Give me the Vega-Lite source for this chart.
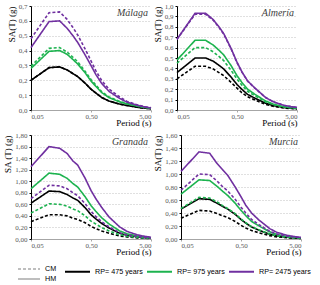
{
"$schema": "https://vega.github.io/schema/vega-lite/v6.json",
"padding": {"left": 3, "top": 2, "right": 2, "bottom": 0},
"config": {
  "view": {"stroke": null},
  "font": "Liberation Serif",
  "axis": {"labelFont": "Liberation Serif", "labelFontSize": 7, "labelColor": "#595959", "labelOverlap": false, "titleFont": "Liberation Serif", "titleFontSize": 9, "titleFontWeight": "normal", "titleColor": "#000000", "tickSize": 2, "gridColor": "#c0c0c0", "gridDash": [1, 2]},
  "axisX": {"grid": false, "domainColor": "#a6a6a6", "tickColor": "#a6a6a6", "titleAnchor": "end", "titlePadding": -1, "labelPadding": 0},
  "axisY": {"domainColor": "#000000", "tickColor": "#000000", "titleAnchor": "end", "titlePadding": 2, "labelPadding": 2},
  "legend": {"labelFont": "Liberation Sans", "labelFontSize": 7.2, "labelColor": "#000000", "title": null, "symbolType": "stroke", "padding": 0, "offset": 0}
},
"data": {"values": [
{"c":"Málaga","rp":"475","m":"CM","T":0.05,"v":0.2},{"c":"Málaga","rp":"475","m":"CM","T":0.1,"v":0.285},{"c":"Málaga","rp":"475","m":"CM","T":0.15,"v":0.29},{"c":"Málaga","rp":"475","m":"CM","T":0.2,"v":0.27},{"c":"Málaga","rp":"475","m":"CM","T":0.25,"v":0.245},{"c":"Málaga","rp":"475","m":"CM","T":0.3,"v":0.225},{"c":"Málaga","rp":"475","m":"CM","T":0.4,"v":0.18},{"c":"Málaga","rp":"475","m":"CM","T":0.5,"v":0.14},{"c":"Málaga","rp":"475","m":"CM","T":0.6,"v":0.115},{"c":"Málaga","rp":"475","m":"CM","T":0.75,"v":0.085},{"c":"Málaga","rp":"475","m":"CM","T":1,"v":0.06},{"c":"Málaga","rp":"475","m":"CM","T":1.5,"v":0.04},{"c":"Málaga","rp":"475","m":"CM","T":2,"v":0.03},{"c":"Málaga","rp":"475","m":"CM","T":3,"v":0.018},{"c":"Málaga","rp":"475","m":"CM","T":4,"v":0.012},{"c":"Málaga","rp":"475","m":"CM","T":5,"v":0.008},
{"c":"Málaga","rp":"475","m":"HM","T":0.05,"v":0.2},{"c":"Málaga","rp":"475","m":"HM","T":0.1,"v":0.285},{"c":"Málaga","rp":"475","m":"HM","T":0.15,"v":0.29},{"c":"Málaga","rp":"475","m":"HM","T":0.2,"v":0.27},{"c":"Málaga","rp":"475","m":"HM","T":0.25,"v":0.245},{"c":"Málaga","rp":"475","m":"HM","T":0.3,"v":0.225},{"c":"Málaga","rp":"475","m":"HM","T":0.4,"v":0.18},{"c":"Málaga","rp":"475","m":"HM","T":0.5,"v":0.14},{"c":"Málaga","rp":"475","m":"HM","T":0.6,"v":0.115},{"c":"Málaga","rp":"475","m":"HM","T":0.75,"v":0.085},{"c":"Málaga","rp":"475","m":"HM","T":1,"v":0.06},{"c":"Málaga","rp":"475","m":"HM","T":1.5,"v":0.04},{"c":"Málaga","rp":"475","m":"HM","T":2,"v":0.03},{"c":"Málaga","rp":"475","m":"HM","T":3,"v":0.018},{"c":"Málaga","rp":"475","m":"HM","T":4,"v":0.012},{"c":"Málaga","rp":"475","m":"HM","T":5,"v":0.008},
{"c":"Málaga","rp":"975","m":"CM","T":0.05,"v":0.295},{"c":"Málaga","rp":"975","m":"CM","T":0.1,"v":0.415},{"c":"Málaga","rp":"975","m":"CM","T":0.15,"v":0.42},{"c":"Málaga","rp":"975","m":"CM","T":0.2,"v":0.39},{"c":"Málaga","rp":"975","m":"CM","T":0.25,"v":0.355},{"c":"Málaga","rp":"975","m":"CM","T":0.3,"v":0.325},{"c":"Málaga","rp":"975","m":"CM","T":0.4,"v":0.26},{"c":"Málaga","rp":"975","m":"CM","T":0.5,"v":0.205},{"c":"Málaga","rp":"975","m":"CM","T":0.6,"v":0.168},{"c":"Málaga","rp":"975","m":"CM","T":0.75,"v":0.124},{"c":"Málaga","rp":"975","m":"CM","T":1,"v":0.088},{"c":"Málaga","rp":"975","m":"CM","T":1.5,"v":0.058},{"c":"Málaga","rp":"975","m":"CM","T":2,"v":0.043},{"c":"Málaga","rp":"975","m":"CM","T":3,"v":0.026},{"c":"Málaga","rp":"975","m":"CM","T":4,"v":0.018},{"c":"Málaga","rp":"975","m":"CM","T":5,"v":0.012},
{"c":"Málaga","rp":"975","m":"HM","T":0.05,"v":0.28},{"c":"Málaga","rp":"975","m":"HM","T":0.1,"v":0.395},{"c":"Málaga","rp":"975","m":"HM","T":0.15,"v":0.4},{"c":"Málaga","rp":"975","m":"HM","T":0.2,"v":0.375},{"c":"Málaga","rp":"975","m":"HM","T":0.25,"v":0.34},{"c":"Málaga","rp":"975","m":"HM","T":0.3,"v":0.31},{"c":"Málaga","rp":"975","m":"HM","T":0.4,"v":0.25},{"c":"Málaga","rp":"975","m":"HM","T":0.5,"v":0.195},{"c":"Málaga","rp":"975","m":"HM","T":0.6,"v":0.16},{"c":"Málaga","rp":"975","m":"HM","T":0.75,"v":0.118},{"c":"Málaga","rp":"975","m":"HM","T":1,"v":0.083},{"c":"Málaga","rp":"975","m":"HM","T":1.5,"v":0.055},{"c":"Málaga","rp":"975","m":"HM","T":2,"v":0.041},{"c":"Málaga","rp":"975","m":"HM","T":3,"v":0.025},{"c":"Málaga","rp":"975","m":"HM","T":4,"v":0.017},{"c":"Málaga","rp":"975","m":"HM","T":5,"v":0.011},
{"c":"Málaga","rp":"2475","m":"CM","T":0.05,"v":0.48},{"c":"Málaga","rp":"2475","m":"CM","T":0.1,"v":0.655},{"c":"Málaga","rp":"2475","m":"CM","T":0.15,"v":0.66},{"c":"Málaga","rp":"2475","m":"CM","T":0.2,"v":0.61},{"c":"Málaga","rp":"2475","m":"CM","T":0.25,"v":0.555},{"c":"Málaga","rp":"2475","m":"CM","T":0.3,"v":0.505},{"c":"Málaga","rp":"2475","m":"CM","T":0.4,"v":0.41},{"c":"Málaga","rp":"2475","m":"CM","T":0.5,"v":0.33},{"c":"Málaga","rp":"2475","m":"CM","T":0.6,"v":0.265},{"c":"Málaga","rp":"2475","m":"CM","T":0.75,"v":0.2},{"c":"Málaga","rp":"2475","m":"CM","T":1,"v":0.14},{"c":"Málaga","rp":"2475","m":"CM","T":1.5,"v":0.088},{"c":"Málaga","rp":"2475","m":"CM","T":2,"v":0.058},{"c":"Málaga","rp":"2475","m":"CM","T":3,"v":0.034},{"c":"Málaga","rp":"2475","m":"CM","T":4,"v":0.022},{"c":"Málaga","rp":"2475","m":"CM","T":5,"v":0.015},
{"c":"Málaga","rp":"2475","m":"HM","T":0.05,"v":0.42},{"c":"Málaga","rp":"2475","m":"HM","T":0.1,"v":0.595},{"c":"Málaga","rp":"2475","m":"HM","T":0.15,"v":0.6},{"c":"Málaga","rp":"2475","m":"HM","T":0.2,"v":0.55},{"c":"Málaga","rp":"2475","m":"HM","T":0.25,"v":0.5},{"c":"Málaga","rp":"2475","m":"HM","T":0.3,"v":0.455},{"c":"Málaga","rp":"2475","m":"HM","T":0.4,"v":0.37},{"c":"Málaga","rp":"2475","m":"HM","T":0.5,"v":0.3},{"c":"Málaga","rp":"2475","m":"HM","T":0.6,"v":0.24},{"c":"Málaga","rp":"2475","m":"HM","T":0.75,"v":0.18},{"c":"Málaga","rp":"2475","m":"HM","T":1,"v":0.125},{"c":"Málaga","rp":"2475","m":"HM","T":1.5,"v":0.078},{"c":"Málaga","rp":"2475","m":"HM","T":2,"v":0.052},{"c":"Málaga","rp":"2475","m":"HM","T":3,"v":0.031},{"c":"Málaga","rp":"2475","m":"HM","T":4,"v":0.02},{"c":"Málaga","rp":"2475","m":"HM","T":5,"v":0.013},
{"c":"Almería","rp":"475","m":"CM","T":0.05,"v":0.3},{"c":"Almería","rp":"475","m":"CM","T":0.1,"v":0.42},{"c":"Almería","rp":"475","m":"CM","T":0.15,"v":0.42},{"c":"Almería","rp":"475","m":"CM","T":0.2,"v":0.395},{"c":"Almería","rp":"475","m":"CM","T":0.25,"v":0.36},{"c":"Almería","rp":"475","m":"CM","T":0.3,"v":0.33},{"c":"Almería","rp":"475","m":"CM","T":0.4,"v":0.265},{"c":"Almería","rp":"475","m":"CM","T":0.5,"v":0.21},{"c":"Almería","rp":"475","m":"CM","T":0.6,"v":0.167},{"c":"Almería","rp":"475","m":"CM","T":0.75,"v":0.127},{"c":"Almería","rp":"475","m":"CM","T":1,"v":0.095},{"c":"Almería","rp":"475","m":"CM","T":1.5,"v":0.054},{"c":"Almería","rp":"475","m":"CM","T":2,"v":0.036},{"c":"Almería","rp":"475","m":"CM","T":3,"v":0.02},{"c":"Almería","rp":"475","m":"CM","T":4,"v":0.014},{"c":"Almería","rp":"475","m":"CM","T":5,"v":0.011},
{"c":"Almería","rp":"475","m":"HM","T":0.05,"v":0.36},{"c":"Almería","rp":"475","m":"HM","T":0.1,"v":0.5},{"c":"Almería","rp":"475","m":"HM","T":0.15,"v":0.5},{"c":"Almería","rp":"475","m":"HM","T":0.2,"v":0.47},{"c":"Almería","rp":"475","m":"HM","T":0.25,"v":0.43},{"c":"Almería","rp":"475","m":"HM","T":0.3,"v":0.395},{"c":"Almería","rp":"475","m":"HM","T":0.4,"v":0.315},{"c":"Almería","rp":"475","m":"HM","T":0.5,"v":0.245},{"c":"Almería","rp":"475","m":"HM","T":0.6,"v":0.2},{"c":"Almería","rp":"475","m":"HM","T":0.75,"v":0.15},{"c":"Almería","rp":"475","m":"HM","T":1,"v":0.113},{"c":"Almería","rp":"475","m":"HM","T":1.5,"v":0.065},{"c":"Almería","rp":"475","m":"HM","T":2,"v":0.043},{"c":"Almería","rp":"475","m":"HM","T":3,"v":0.024},{"c":"Almería","rp":"475","m":"HM","T":4,"v":0.017},{"c":"Almería","rp":"475","m":"HM","T":5,"v":0.013},
{"c":"Almería","rp":"975","m":"CM","T":0.05,"v":0.45},{"c":"Almería","rp":"975","m":"CM","T":0.1,"v":0.6},{"c":"Almería","rp":"975","m":"CM","T":0.15,"v":0.6},{"c":"Almería","rp":"975","m":"CM","T":0.2,"v":0.56},{"c":"Almería","rp":"975","m":"CM","T":0.25,"v":0.515},{"c":"Almería","rp":"975","m":"CM","T":0.3,"v":0.475},{"c":"Almería","rp":"975","m":"CM","T":0.4,"v":0.38},{"c":"Almería","rp":"975","m":"CM","T":0.5,"v":0.297},{"c":"Almería","rp":"975","m":"CM","T":0.6,"v":0.24},{"c":"Almería","rp":"975","m":"CM","T":0.75,"v":0.18},{"c":"Almería","rp":"975","m":"CM","T":1,"v":0.136},{"c":"Almería","rp":"975","m":"CM","T":1.5,"v":0.077},{"c":"Almería","rp":"975","m":"CM","T":2,"v":0.052},{"c":"Almería","rp":"975","m":"CM","T":3,"v":0.029},{"c":"Almería","rp":"975","m":"CM","T":4,"v":0.02},{"c":"Almería","rp":"975","m":"CM","T":5,"v":0.016},
{"c":"Almería","rp":"975","m":"HM","T":0.05,"v":0.48},{"c":"Almería","rp":"975","m":"HM","T":0.1,"v":0.67},{"c":"Almería","rp":"975","m":"HM","T":0.15,"v":0.67},{"c":"Almería","rp":"975","m":"HM","T":0.2,"v":0.625},{"c":"Almería","rp":"975","m":"HM","T":0.25,"v":0.575},{"c":"Almería","rp":"975","m":"HM","T":0.3,"v":0.53},{"c":"Almería","rp":"975","m":"HM","T":0.4,"v":0.425},{"c":"Almería","rp":"975","m":"HM","T":0.5,"v":0.33},{"c":"Almería","rp":"975","m":"HM","T":0.6,"v":0.267},{"c":"Almería","rp":"975","m":"HM","T":0.75,"v":0.2},{"c":"Almería","rp":"975","m":"HM","T":1,"v":0.15},{"c":"Almería","rp":"975","m":"HM","T":1.5,"v":0.086},{"c":"Almería","rp":"975","m":"HM","T":2,"v":0.058},{"c":"Almería","rp":"975","m":"HM","T":3,"v":0.032},{"c":"Almería","rp":"975","m":"HM","T":4,"v":0.023},{"c":"Almería","rp":"975","m":"HM","T":5,"v":0.018},
{"c":"Almería","rp":"2475","m":"CM","T":0.05,"v":0.68},{"c":"Almería","rp":"2475","m":"CM","T":0.1,"v":0.92},{"c":"Almería","rp":"2475","m":"CM","T":0.15,"v":0.92},{"c":"Almería","rp":"2475","m":"CM","T":0.2,"v":0.865},{"c":"Almería","rp":"2475","m":"CM","T":0.25,"v":0.795},{"c":"Almería","rp":"2475","m":"CM","T":0.3,"v":0.73},{"c":"Almería","rp":"2475","m":"CM","T":0.4,"v":0.585},{"c":"Almería","rp":"2475","m":"CM","T":0.5,"v":0.455},{"c":"Almería","rp":"2475","m":"CM","T":0.6,"v":0.367},{"c":"Almería","rp":"2475","m":"CM","T":0.75,"v":0.278},{"c":"Almería","rp":"2475","m":"CM","T":1,"v":0.208},{"c":"Almería","rp":"2475","m":"CM","T":1.5,"v":0.12},{"c":"Almería","rp":"2475","m":"CM","T":2,"v":0.08},{"c":"Almería","rp":"2475","m":"CM","T":3,"v":0.045},{"c":"Almería","rp":"2475","m":"CM","T":4,"v":0.032},{"c":"Almería","rp":"2475","m":"CM","T":5,"v":0.025},
{"c":"Almería","rp":"2475","m":"HM","T":0.05,"v":0.68},{"c":"Almería","rp":"2475","m":"HM","T":0.1,"v":0.93},{"c":"Almería","rp":"2475","m":"HM","T":0.15,"v":0.93},{"c":"Almería","rp":"2475","m":"HM","T":0.2,"v":0.87},{"c":"Almería","rp":"2475","m":"HM","T":0.25,"v":0.8},{"c":"Almería","rp":"2475","m":"HM","T":0.3,"v":0.735},{"c":"Almería","rp":"2475","m":"HM","T":0.4,"v":0.59},{"c":"Almería","rp":"2475","m":"HM","T":0.5,"v":0.46},{"c":"Almería","rp":"2475","m":"HM","T":0.6,"v":0.37},{"c":"Almería","rp":"2475","m":"HM","T":0.75,"v":0.28},{"c":"Almería","rp":"2475","m":"HM","T":1,"v":0.21},{"c":"Almería","rp":"2475","m":"HM","T":1.5,"v":0.12},{"c":"Almería","rp":"2475","m":"HM","T":2,"v":0.08},{"c":"Almería","rp":"2475","m":"HM","T":3,"v":0.045},{"c":"Almería","rp":"2475","m":"HM","T":4,"v":0.032},{"c":"Almería","rp":"2475","m":"HM","T":5,"v":0.025},
{"c":"Granada","rp":"475","m":"CM","T":0.05,"v":0.3},{"c":"Granada","rp":"475","m":"CM","T":0.1,"v":0.42},{"c":"Granada","rp":"475","m":"CM","T":0.15,"v":0.42},{"c":"Granada","rp":"475","m":"CM","T":0.2,"v":0.4},{"c":"Granada","rp":"475","m":"CM","T":0.25,"v":0.36},{"c":"Granada","rp":"475","m":"CM","T":0.3,"v":0.34},{"c":"Granada","rp":"475","m":"CM","T":0.4,"v":0.28},{"c":"Granada","rp":"475","m":"CM","T":0.5,"v":0.22},{"c":"Granada","rp":"475","m":"CM","T":0.6,"v":0.18},{"c":"Granada","rp":"475","m":"CM","T":0.75,"v":0.14},{"c":"Granada","rp":"475","m":"CM","T":1,"v":0.1},{"c":"Granada","rp":"475","m":"CM","T":1.5,"v":0.053},{"c":"Granada","rp":"475","m":"CM","T":2,"v":0.034},{"c":"Granada","rp":"475","m":"CM","T":3,"v":0.019},{"c":"Granada","rp":"475","m":"CM","T":4,"v":0.012},{"c":"Granada","rp":"475","m":"CM","T":5,"v":0.008},
{"c":"Granada","rp":"475","m":"HM","T":0.05,"v":0.62},{"c":"Granada","rp":"475","m":"HM","T":0.1,"v":0.83},{"c":"Granada","rp":"475","m":"HM","T":0.15,"v":0.82},{"c":"Granada","rp":"475","m":"HM","T":0.2,"v":0.77},{"c":"Granada","rp":"475","m":"HM","T":0.25,"v":0.71},{"c":"Granada","rp":"475","m":"HM","T":0.3,"v":0.67},{"c":"Granada","rp":"475","m":"HM","T":0.4,"v":0.54},{"c":"Granada","rp":"475","m":"HM","T":0.5,"v":0.42},{"c":"Granada","rp":"475","m":"HM","T":0.6,"v":0.35},{"c":"Granada","rp":"475","m":"HM","T":0.75,"v":0.27},{"c":"Granada","rp":"475","m":"HM","T":1,"v":0.19},{"c":"Granada","rp":"475","m":"HM","T":1.5,"v":0.1},{"c":"Granada","rp":"475","m":"HM","T":2,"v":0.065},{"c":"Granada","rp":"475","m":"HM","T":3,"v":0.036},{"c":"Granada","rp":"475","m":"HM","T":4,"v":0.023},{"c":"Granada","rp":"475","m":"HM","T":5,"v":0.016},
{"c":"Granada","rp":"975","m":"CM","T":0.05,"v":0.45},{"c":"Granada","rp":"975","m":"CM","T":0.1,"v":0.61},{"c":"Granada","rp":"975","m":"CM","T":0.15,"v":0.6},{"c":"Granada","rp":"975","m":"CM","T":0.2,"v":0.57},{"c":"Granada","rp":"975","m":"CM","T":0.25,"v":0.52},{"c":"Granada","rp":"975","m":"CM","T":0.3,"v":0.49},{"c":"Granada","rp":"975","m":"CM","T":0.4,"v":0.4},{"c":"Granada","rp":"975","m":"CM","T":0.5,"v":0.31},{"c":"Granada","rp":"975","m":"CM","T":0.6,"v":0.26},{"c":"Granada","rp":"975","m":"CM","T":0.75,"v":0.2},{"c":"Granada","rp":"975","m":"CM","T":1,"v":0.14},{"c":"Granada","rp":"975","m":"CM","T":1.5,"v":0.075},{"c":"Granada","rp":"975","m":"CM","T":2,"v":0.048},{"c":"Granada","rp":"975","m":"CM","T":3,"v":0.027},{"c":"Granada","rp":"975","m":"CM","T":4,"v":0.017},{"c":"Granada","rp":"975","m":"CM","T":5,"v":0.012},
{"c":"Granada","rp":"975","m":"HM","T":0.05,"v":0.87},{"c":"Granada","rp":"975","m":"HM","T":0.1,"v":1.14},{"c":"Granada","rp":"975","m":"HM","T":0.15,"v":1.12},{"c":"Granada","rp":"975","m":"HM","T":0.2,"v":1.05},{"c":"Granada","rp":"975","m":"HM","T":0.25,"v":0.96},{"c":"Granada","rp":"975","m":"HM","T":0.3,"v":0.9},{"c":"Granada","rp":"975","m":"HM","T":0.4,"v":0.73},{"c":"Granada","rp":"975","m":"HM","T":0.5,"v":0.58},{"c":"Granada","rp":"975","m":"HM","T":0.6,"v":0.48},{"c":"Granada","rp":"975","m":"HM","T":0.75,"v":0.37},{"c":"Granada","rp":"975","m":"HM","T":1,"v":0.26},{"c":"Granada","rp":"975","m":"HM","T":1.5,"v":0.14},{"c":"Granada","rp":"975","m":"HM","T":2,"v":0.09},{"c":"Granada","rp":"975","m":"HM","T":3,"v":0.05},{"c":"Granada","rp":"975","m":"HM","T":4,"v":0.032},{"c":"Granada","rp":"975","m":"HM","T":5,"v":0.022},
{"c":"Granada","rp":"2475","m":"CM","T":0.05,"v":0.7},{"c":"Granada","rp":"2475","m":"CM","T":0.1,"v":0.93},{"c":"Granada","rp":"2475","m":"CM","T":0.15,"v":0.92},{"c":"Granada","rp":"2475","m":"CM","T":0.2,"v":0.87},{"c":"Granada","rp":"2475","m":"CM","T":0.25,"v":0.8},{"c":"Granada","rp":"2475","m":"CM","T":0.3,"v":0.75},{"c":"Granada","rp":"2475","m":"CM","T":0.4,"v":0.61},{"c":"Granada","rp":"2475","m":"CM","T":0.5,"v":0.48},{"c":"Granada","rp":"2475","m":"CM","T":0.6,"v":0.39},{"c":"Granada","rp":"2475","m":"CM","T":0.75,"v":0.3},{"c":"Granada","rp":"2475","m":"CM","T":1,"v":0.21},{"c":"Granada","rp":"2475","m":"CM","T":1.5,"v":0.11},{"c":"Granada","rp":"2475","m":"CM","T":2,"v":0.07},{"c":"Granada","rp":"2475","m":"CM","T":3,"v":0.04},{"c":"Granada","rp":"2475","m":"CM","T":4,"v":0.026},{"c":"Granada","rp":"2475","m":"CM","T":5,"v":0.018},
{"c":"Granada","rp":"2475","m":"HM","T":0.05,"v":1.25},{"c":"Granada","rp":"2475","m":"HM","T":0.1,"v":1.6},{"c":"Granada","rp":"2475","m":"HM","T":0.15,"v":1.57},{"c":"Granada","rp":"2475","m":"HM","T":0.2,"v":1.48},{"c":"Granada","rp":"2475","m":"HM","T":0.25,"v":1.35},{"c":"Granada","rp":"2475","m":"HM","T":0.3,"v":1.28},{"c":"Granada","rp":"2475","m":"HM","T":0.4,"v":1.05},{"c":"Granada","rp":"2475","m":"HM","T":0.5,"v":0.84},{"c":"Granada","rp":"2475","m":"HM","T":0.6,"v":0.7},{"c":"Granada","rp":"2475","m":"HM","T":0.75,"v":0.55},{"c":"Granada","rp":"2475","m":"HM","T":1,"v":0.38},{"c":"Granada","rp":"2475","m":"HM","T":1.5,"v":0.21},{"c":"Granada","rp":"2475","m":"HM","T":2,"v":0.13},{"c":"Granada","rp":"2475","m":"HM","T":3,"v":0.07},{"c":"Granada","rp":"2475","m":"HM","T":4,"v":0.045},{"c":"Granada","rp":"2475","m":"HM","T":5,"v":0.03},
{"c":"Murcia","rp":"475","m":"CM","T":0.05,"v":0.32},{"c":"Murcia","rp":"475","m":"CM","T":0.1,"v":0.44},{"c":"Murcia","rp":"475","m":"CM","T":0.15,"v":0.43},{"c":"Murcia","rp":"475","m":"CM","T":0.2,"v":0.39},{"c":"Murcia","rp":"475","m":"CM","T":0.25,"v":0.355},{"c":"Murcia","rp":"475","m":"CM","T":0.3,"v":0.33},{"c":"Murcia","rp":"475","m":"CM","T":0.4,"v":0.27},{"c":"Murcia","rp":"475","m":"CM","T":0.5,"v":0.21},{"c":"Murcia","rp":"475","m":"CM","T":0.6,"v":0.17},{"c":"Murcia","rp":"475","m":"CM","T":0.75,"v":0.13},{"c":"Murcia","rp":"475","m":"CM","T":1,"v":0.095},{"c":"Murcia","rp":"475","m":"CM","T":1.5,"v":0.052},{"c":"Murcia","rp":"475","m":"CM","T":2,"v":0.033},{"c":"Murcia","rp":"475","m":"CM","T":3,"v":0.018},{"c":"Murcia","rp":"475","m":"CM","T":4,"v":0.012},{"c":"Murcia","rp":"475","m":"CM","T":5,"v":0.008},
{"c":"Murcia","rp":"475","m":"HM","T":0.05,"v":0.46},{"c":"Murcia","rp":"475","m":"HM","T":0.1,"v":0.62},{"c":"Murcia","rp":"475","m":"HM","T":0.15,"v":0.61},{"c":"Murcia","rp":"475","m":"HM","T":0.2,"v":0.55},{"c":"Murcia","rp":"475","m":"HM","T":0.25,"v":0.5},{"c":"Murcia","rp":"475","m":"HM","T":0.3,"v":0.46},{"c":"Murcia","rp":"475","m":"HM","T":0.4,"v":0.38},{"c":"Murcia","rp":"475","m":"HM","T":0.5,"v":0.3},{"c":"Murcia","rp":"475","m":"HM","T":0.6,"v":0.245},{"c":"Murcia","rp":"475","m":"HM","T":0.75,"v":0.185},{"c":"Murcia","rp":"475","m":"HM","T":1,"v":0.135},{"c":"Murcia","rp":"475","m":"HM","T":1.5,"v":0.074},{"c":"Murcia","rp":"475","m":"HM","T":2,"v":0.046},{"c":"Murcia","rp":"475","m":"HM","T":3,"v":0.026},{"c":"Murcia","rp":"475","m":"HM","T":4,"v":0.016},{"c":"Murcia","rp":"475","m":"HM","T":5,"v":0.011},
{"c":"Murcia","rp":"975","m":"CM","T":0.05,"v":0.47},{"c":"Murcia","rp":"975","m":"CM","T":0.1,"v":0.64},{"c":"Murcia","rp":"975","m":"CM","T":0.15,"v":0.63},{"c":"Murcia","rp":"975","m":"CM","T":0.2,"v":0.57},{"c":"Murcia","rp":"975","m":"CM","T":0.25,"v":0.51},{"c":"Murcia","rp":"975","m":"CM","T":0.3,"v":0.47},{"c":"Murcia","rp":"975","m":"CM","T":0.4,"v":0.39},{"c":"Murcia","rp":"975","m":"CM","T":0.5,"v":0.31},{"c":"Murcia","rp":"975","m":"CM","T":0.6,"v":0.25},{"c":"Murcia","rp":"975","m":"CM","T":0.75,"v":0.19},{"c":"Murcia","rp":"975","m":"CM","T":1,"v":0.14},{"c":"Murcia","rp":"975","m":"CM","T":1.5,"v":0.077},{"c":"Murcia","rp":"975","m":"CM","T":2,"v":0.048},{"c":"Murcia","rp":"975","m":"CM","T":3,"v":0.027},{"c":"Murcia","rp":"975","m":"CM","T":4,"v":0.017},{"c":"Murcia","rp":"975","m":"CM","T":5,"v":0.012},
{"c":"Murcia","rp":"975","m":"HM","T":0.05,"v":0.69},{"c":"Murcia","rp":"975","m":"HM","T":0.1,"v":0.91},{"c":"Murcia","rp":"975","m":"HM","T":0.15,"v":0.9},{"c":"Murcia","rp":"975","m":"HM","T":0.2,"v":0.81},{"c":"Murcia","rp":"975","m":"HM","T":0.25,"v":0.73},{"c":"Murcia","rp":"975","m":"HM","T":0.3,"v":0.67},{"c":"Murcia","rp":"975","m":"HM","T":0.4,"v":0.55},{"c":"Murcia","rp":"975","m":"HM","T":0.5,"v":0.44},{"c":"Murcia","rp":"975","m":"HM","T":0.6,"v":0.36},{"c":"Murcia","rp":"975","m":"HM","T":0.75,"v":0.27},{"c":"Murcia","rp":"975","m":"HM","T":1,"v":0.2},{"c":"Murcia","rp":"975","m":"HM","T":1.5,"v":0.11},{"c":"Murcia","rp":"975","m":"HM","T":2,"v":0.068},{"c":"Murcia","rp":"975","m":"HM","T":3,"v":0.038},{"c":"Murcia","rp":"975","m":"HM","T":4,"v":0.024},{"c":"Murcia","rp":"975","m":"HM","T":5,"v":0.017},
{"c":"Murcia","rp":"2475","m":"CM","T":0.05,"v":0.75},{"c":"Murcia","rp":"2475","m":"CM","T":0.1,"v":1.0},{"c":"Murcia","rp":"2475","m":"CM","T":0.15,"v":0.99},{"c":"Murcia","rp":"2475","m":"CM","T":0.2,"v":0.89},{"c":"Murcia","rp":"2475","m":"CM","T":0.25,"v":0.8},{"c":"Murcia","rp":"2475","m":"CM","T":0.3,"v":0.74},{"c":"Murcia","rp":"2475","m":"CM","T":0.4,"v":0.61},{"c":"Murcia","rp":"2475","m":"CM","T":0.5,"v":0.49},{"c":"Murcia","rp":"2475","m":"CM","T":0.6,"v":0.4},{"c":"Murcia","rp":"2475","m":"CM","T":0.75,"v":0.3},{"c":"Murcia","rp":"2475","m":"CM","T":1,"v":0.22},{"c":"Murcia","rp":"2475","m":"CM","T":1.5,"v":0.12},{"c":"Murcia","rp":"2475","m":"CM","T":2,"v":0.075},{"c":"Murcia","rp":"2475","m":"CM","T":3,"v":0.042},{"c":"Murcia","rp":"2475","m":"CM","T":4,"v":0.027},{"c":"Murcia","rp":"2475","m":"CM","T":5,"v":0.019},
{"c":"Murcia","rp":"2475","m":"HM","T":0.05,"v":1.04},{"c":"Murcia","rp":"2475","m":"HM","T":0.1,"v":1.34},{"c":"Murcia","rp":"2475","m":"HM","T":0.15,"v":1.32},{"c":"Murcia","rp":"2475","m":"HM","T":0.2,"v":1.16},{"c":"Murcia","rp":"2475","m":"HM","T":0.25,"v":1.06},{"c":"Murcia","rp":"2475","m":"HM","T":0.3,"v":0.98},{"c":"Murcia","rp":"2475","m":"HM","T":0.4,"v":0.8},{"c":"Murcia","rp":"2475","m":"HM","T":0.5,"v":0.65},{"c":"Murcia","rp":"2475","m":"HM","T":0.6,"v":0.52},{"c":"Murcia","rp":"2475","m":"HM","T":0.75,"v":0.4},{"c":"Murcia","rp":"2475","m":"HM","T":1,"v":0.29},{"c":"Murcia","rp":"2475","m":"HM","T":1.5,"v":0.16},{"c":"Murcia","rp":"2475","m":"HM","T":2,"v":0.1},{"c":"Murcia","rp":"2475","m":"HM","T":3,"v":0.055},{"c":"Murcia","rp":"2475","m":"HM","T":4,"v":0.035},{"c":"Murcia","rp":"2475","m":"HM","T":5,"v":0.025}
]},
"spacing": 4,
"vconcat": [
 {"spacing": -2, "hconcat": [
  {"width": 120, "height": 104,
   "encoding": {
     "x": {"field": "T", "type": "quantitative", "scale": {"type": "log", "domain": [0.05, 5], "nice": false}, "axis": {"values": [0.05, 0.5, 5], "labelExpr": "replace(format(datum.value, '.2f'), '.', ',')", "title": "Period (s)"}},
     "y": {"field": "v", "type": "quantitative", "scale": {"domain": [0, 0.7], "nice": false, "zero": true}, "axis": {"values": [0, 0.1, 0.2, 0.3, 0.4, 0.5, 0.6, 0.7], "labelExpr": "replace(format(datum.value, '.1f'), '.', ',')", "title": "SA(T) (g)"}}
   },
   "layer": [
   {"transform": [{"filter": "datum.c === 'Málaga'"}],
    "mark": {"type": "line", "strokeWidth": 1.6},
    "encoding": {
     "color": {"field": "rp", "type": "nominal", "scale": {"domain": ["475", "975", "2475"], "range": ["#000000", "#1db34f", "#7030a0"]}, "legend": {"orient": "none", "legendX": 33, "legendY": 252, "direction": "horizontal", "symbolSize": 625, "symbolStrokeWidth": 2, "labelExpr": "'RP= ' + datum.label + ' years'", "columnPadding": 0, "labelOffset": 4}},
     "strokeDash": {"field": "m", "type": "nominal", "scale": {"domain": ["CM", "HM"], "range": [[3, 2], [1, 0]]}, "legend": {"orient": "none", "legendX": -8, "legendY": 257, "direction": "vertical", "symbolType": "M-2.2,0H2.2", "symbolSize": 100, "symbolStrokeColor": "#7f7f7f", "symbolStrokeWidth": 1.2, "rowPadding": 0, "labelOffset": 10}}
    }},
   {"data": {"values": [{"label": "Málaga", "T": 5, "v": 0.7}]}, "mark": {"type": "text", "align": "right", "baseline": "middle", "fontStyle": "italic", "fontSize": 10, "font": "Liberation Serif", "color": "#404040", "dx": -3, "dy": 7},
    "encoding": {"text": {"field": "label"}}}
  ]},
  {"width": 120, "height": 104,
   "encoding": {
     "x": {"field": "T", "type": "quantitative", "scale": {"type": "log", "domain": [0.05, 5], "nice": false}, "axis": {"values": [0.05, 0.5, 5], "labelExpr": "replace(format(datum.value, '.2f'), '.', ',')", "title": "Period (s)"}},
     "y": {"field": "v", "type": "quantitative", "scale": {"domain": [0, 1], "nice": false}, "axis": {"values": [0, 0.1, 0.2, 0.3, 0.4, 0.5, 0.6, 0.7, 0.8, 0.9, 1], "labelExpr": "replace(format(datum.value, '.1f'), '.', ',')", "title": "SA(T) (g)"}}
   },
   "layer": [
   {"transform": [{"filter": "datum.c === 'Almería'"}],
    "mark": {"type": "line", "strokeWidth": 1.6},
    "encoding": {
     "color": {"field": "rp", "type": "nominal"},
     "strokeDash": {"field": "m", "type": "nominal"}
    }},
   {"data": {"values": [{"label": "Almería", "T": 5, "v": 1}]}, "mark": {"type": "text", "align": "right", "baseline": "middle", "fontStyle": "italic", "fontSize": 10, "font": "Liberation Serif", "color": "#404040", "dx": -3, "dy": 7},
    "encoding": {"text": {"field": "label"}}}
  ]}
 ]},
 {"spacing": -2, "hconcat": [
  {"width": 120, "height": 104,
   "encoding": {
     "x": {"field": "T", "type": "quantitative", "scale": {"type": "log", "domain": [0.05, 5], "nice": false}, "axis": {"values": [0.05, 0.5, 5], "labelExpr": "replace(format(datum.value, '.2f'), '.', ',')", "title": "Period (s)"}},
     "y": {"field": "v", "type": "quantitative", "scale": {"domain": [0, 1.8], "nice": false}, "axis": {"values": [0, 0.2, 0.4, 0.6, 0.8, 1, 1.2, 1.4, 1.6, 1.8], "labelExpr": "replace(format(datum.value, '.2f'), '.', ',')", "title": "SA (T) (g)"}}
   },
   "layer": [
   {"transform": [{"filter": "datum.c === 'Granada'"}],
    "mark": {"type": "line", "strokeWidth": 1.6},
    "encoding": {
     "color": {"field": "rp", "type": "nominal"},
     "strokeDash": {"field": "m", "type": "nominal"}
    }},
   {"data": {"values": [{"label": "Granada", "T": 5, "v": 1.8}]}, "mark": {"type": "text", "align": "right", "baseline": "middle", "fontStyle": "italic", "fontSize": 10, "font": "Liberation Serif", "color": "#404040", "dx": -3, "dy": 7},
    "encoding": {"text": {"field": "label"}}}
  ]},
  {"width": 120, "height": 104,
   "encoding": {
     "x": {"field": "T", "type": "quantitative", "scale": {"type": "log", "domain": [0.05, 5], "nice": false}, "axis": {"values": [0.05, 0.5, 5], "labelExpr": "replace(format(datum.value, '.2f'), '.', ',')", "title": "Period (s)"}},
     "y": {"field": "v", "type": "quantitative", "scale": {"domain": [0, 1.6], "nice": false}, "axis": {"values": [0, 0.2, 0.4, 0.6, 0.8, 1, 1.2, 1.4, 1.6], "labelExpr": "replace(format(datum.value, '.2f'), '.', ',')", "title": "SA(T) (g)"}}
   },
   "layer": [
   {"transform": [{"filter": "datum.c === 'Murcia'"}],
    "mark": {"type": "line", "strokeWidth": 1.6},
    "encoding": {
     "color": {"field": "rp", "type": "nominal"},
     "strokeDash": {"field": "m", "type": "nominal"}
    }},
   {"data": {"values": [{"label": "Murcia", "T": 5, "v": 1.6}]}, "mark": {"type": "text", "align": "right", "baseline": "middle", "fontStyle": "italic", "fontSize": 10, "font": "Liberation Serif", "color": "#404040", "dx": -3, "dy": 7},
    "encoding": {"text": {"field": "label"}}}
  ]}
 ]}
]
}
